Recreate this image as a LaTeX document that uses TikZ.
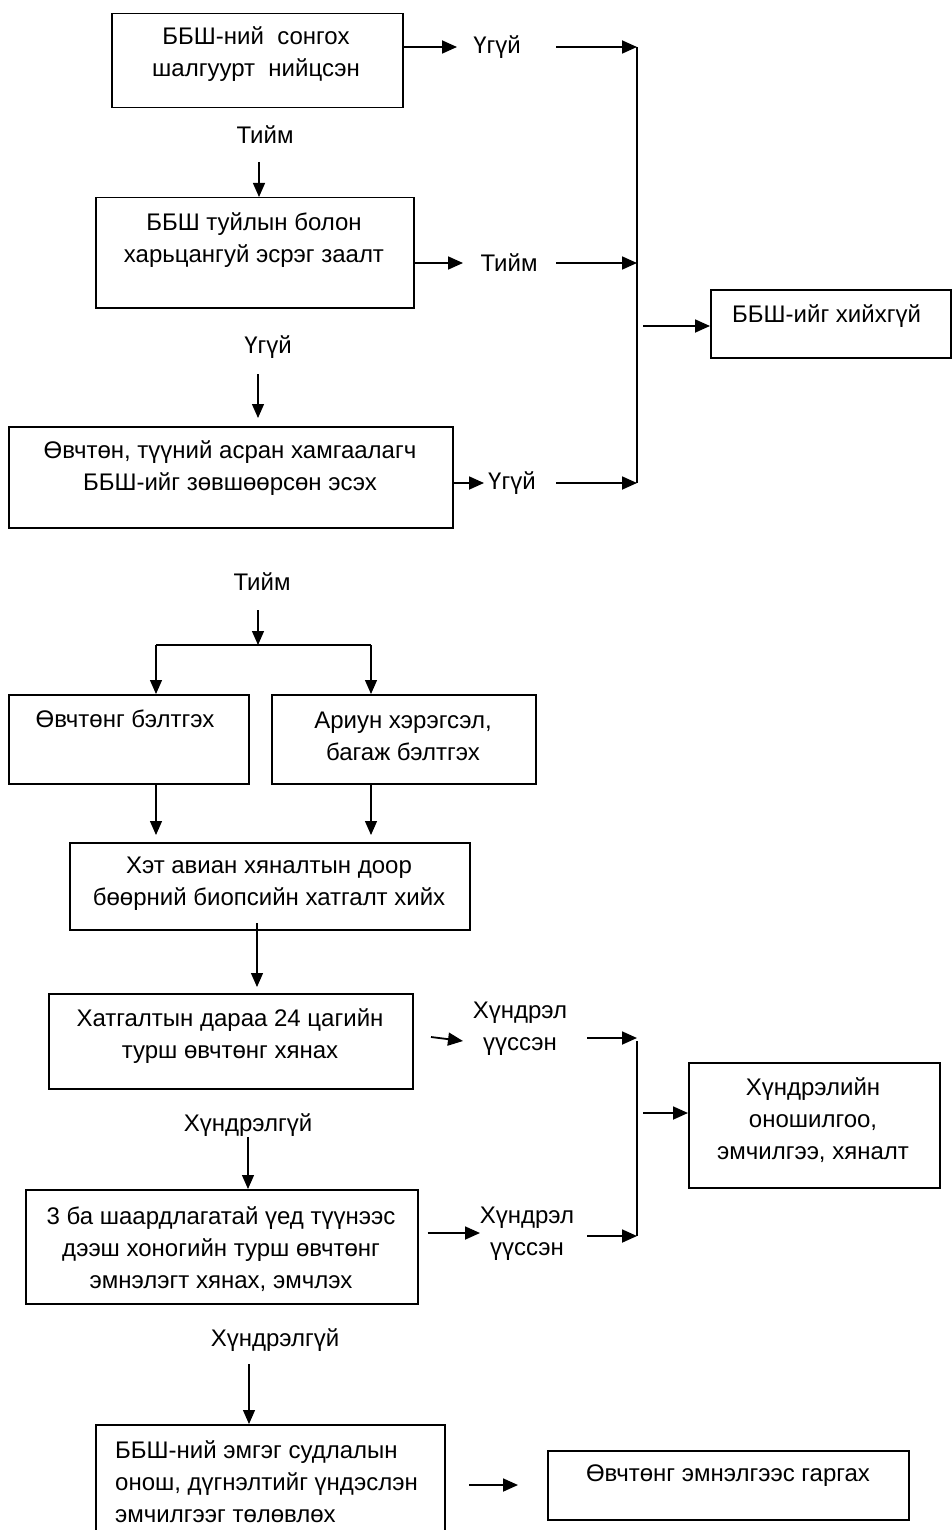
\documentclass[tikz,border=0pt]{standalone}
\usepackage{fontspec}
\setmainfont{Liberation Sans}
\usetikzlibrary{arrows.meta}
\begin{document}
\begin{tikzpicture}[x=1pt,y=-1pt,
  box/.style={draw=black, line width=1.5pt, rectangle, anchor=north west, inner sep=0pt},
  txt/.style={inner sep=0pt, align=center, font=\fontsize{24}{32}\selectfont},
  ltxt/.style={inner sep=0pt, align=left, anchor=west, font=\fontsize{24}{32}\selectfont},
  arr/.style={line width=1.3pt, -{Triangle[length=14pt,width=12pt]}},
  harr/.style={line width=1.8pt, -{Triangle[length=15pt,width=13pt]}},
  busline/.style={line width=1.8pt}]
\useasboundingbox (0,0) rectangle (951,1530);
\fill[white] (0,0) rectangle (951,1530);

% boxes
\node[box, minimum width=291pt, minimum height=94pt] (b1) at (111,13) {};
\node[box, minimum width=318pt, minimum height=110pt] (b2) at (95,197) {};
\node[box, minimum width=444pt, minimum height=101pt] (b3) at (8,426) {};
\node[box, minimum width=240pt, minimum height=68pt] (bR1) at (710,289) {};
\node[box, minimum width=240pt, minimum height=89pt] (b4) at (8,694) {};
\node[box, minimum width=264pt, minimum height=89pt] (b5) at (271,694) {};
\node[box, minimum width=400pt, minimum height=87pt] (b6) at (69,842) {};
\node[box, minimum width=364pt, minimum height=95pt] (b7) at (48,993) {};
\node[box, minimum width=251pt, minimum height=125pt] (bR2) at (688,1062) {};
\node[box, minimum width=392pt, minimum height=114pt] (b8) at (25,1189) {};
\node[box, minimum width=349pt, minimum height=120pt] (b10) at (95,1424) {};
\node[box, minimum width=361pt, minimum height=69pt] (b11) at (547,1450) {};

% box texts
\node[txt] (t1) at (256,54) {ББШ-ний\ \ сонгох\\шалгуурт\ \ нийцсэн};
\node[txt] (t2) at (254,240) {ББШ туйлын болон\\харьцангуй эсрэг заалт};
\node[txt] (t3) at (230,468) {Өвчтөн, түүний асран хамгаалагч\\ББШ-ийг зөвшөөрсөн эсэх};
\node[ltxt] (tR1) at (732,316) {ББШ-ийг хийхгүй};
\node[txt] (t4) at (125,719) {Өвчтөнг бэлтгэх};
\node[txt] (t5) at (403,736) {Ариун хэрэгсэл,\\багаж бэлтгэх};
\node[txt] (t6) at (269,884) {Хэт авиан хяналтын доор\\бөөрний биопсийн хатгалт хийх};
\node[txt] (t7) at (230,1036) {Хатгалтын дараа 24 цагийн\\турш өвчтөнг хянах};
\node[txt] (tR2) at (813,1120) {Хүндрэлийн\\оношилгоо,\\эмчилгээ, хяналт};
\node[txt] (t8) at (221,1249) {3 ба шаардлагатай үед түүнээс\\дээш хоногийн турш өвчтөнг\\эмнэлэгт хянах, эмчлэх};
\node[ltxt] (t10) at (115,1482) {ББШ-ний эмгэг судлалын\\онош, дүгнэлтийг үндэслэн\\эмчилгээг төлөвлөх};
\node[txt] (t11) at (728,1476) {Өвчтөнг эмнэлгээс гаргах};

% labels
\node[txt] (l1) at (497,47) {Үгүй};
\node[txt] (l2) at (265,135) {Тийм};
\node[txt] (l3) at (509,263) {Тийм};
\node[txt] (l4) at (268,347) {Үгүй};
\node[ltxt] (l5) at (488,483) {Үгүй};
\node[txt] (l6) at (262,582) {Тийм};
\node[txt] (l7) at (520,1029) {Хүндрэл\\үүссэн};
\node[txt] (l8) at (248,1125) {Хүндрэлгүй};
\node[txt] (l9) at (527,1234) {Хүндрэл\\үүссэн};
\node[txt] (l10) at (275,1340) {Хүндрэлгүй};

% coordinates
\coordinate (e1) at (457,47);
\coordinate (s1) at (556,47);
\coordinate (j1) at (637,47);
\coordinate (e2) at (463,263);
\coordinate (s2) at (556,263);
\coordinate (j2) at (637,263);
\coordinate (e3) at (484,483);
\coordinate (s3) at (556,483);
\coordinate (j3) at (637,483);
\coordinate (jm) at (643,326);
\coordinate (v1) at (259,162);
\coordinate (v2) at (258,374);
\coordinate (v2e) at (258,418);
\coordinate (v3) at (258,610);
\coordinate (sp) at (258,645);
\coordinate (spl) at (156,645);
\coordinate (spr) at (371,645);
\coordinate (d1) at (156,835);
\coordinate (d2) at (371,835);
\coordinate (v4) at (257,923);
\coordinate (v4e) at (257,987);
\coordinate (v5) at (248,1137);
\coordinate (v6) at (249,1364);
\coordinate (h1) at (431,1037);
\coordinate (h1e) at (463,1041);
\coordinate (s7) at (587,1038);
\coordinate (k1) at (637,1038);
\coordinate (k1t) at (637,1041);
\coordinate (km) at (643,1113);
\coordinate (h2e) at (480,1233);
\coordinate (s9) at (587,1236);
\coordinate (k2) at (637,1236);
\coordinate (h3) at (469,1485);
\coordinate (h3e) at (518,1485);

% top part connectors
\draw[harr] (b1.east |- e1) -- (e1);
\draw[harr] (s1) -- (j1);
\draw[harr] (b2.east |- e2) -- (e2);
\draw[harr] (s2) -- (j2);
\draw[harr] (b3.east |- e3) -- (e3);
\draw[harr] (s3) -- (j3);
\draw[busline] (j1) -- (j3);
\draw[harr] (jm) -- (bR1.west |- jm);
\draw[arr] (v1) -- (b2.north -| v1);
\draw[arr] (v2) -- (v2e);

% split
\draw[arr] (v3) -- (sp);
\draw[busline] (spl) -- (spr);
\draw[arr] (spl) -- (b4.north -| spl);
\draw[arr] (spr) -- (b5.north -| spr);
\draw[arr] (b4.south -| d1) -- (d1);
\draw[arr] (b5.south -| d2) -- (d2);
\draw[arr] (v4) -- (v4e);

% lower part
\draw[harr] (h1) -- (h1e);
\draw[harr] (s7) -- (k1);
\draw[busline] (k1t) -- (k2);
\draw[harr] (km) -- (bR2.west |- km);
\draw[arr] (v5) -- (b8.north -| v5);
\draw[harr] (b8.east |- h2e) ++(9,0) -- (h2e);
\draw[harr] (s9) -- (k2);
\draw[arr] (v6) -- (b10.north -| v6);
\draw[harr] (h3) -- (h3e);
\end{tikzpicture}
\end{document}
